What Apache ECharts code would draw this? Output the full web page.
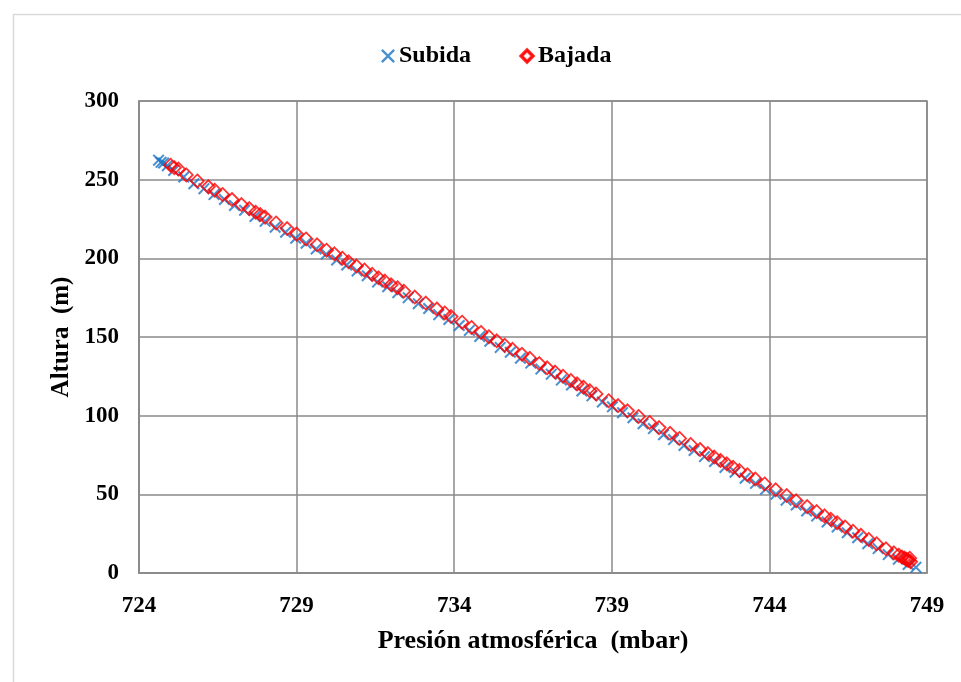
<!DOCTYPE html>
<html>
<head>
<meta charset="utf-8">
<script src="https://cdn.jsdelivr.net/npm/echarts@6/dist/echarts.min.js"></script>
<style>html,body{margin:0;padding:0;background:#fff}#c{width:961px;height:682px}</style>
</head>
<body>
<div id="c"></div>
<script>
// Subida: [presión (mbar), altura (m)]
var subida = [
  [724.62,262.4],[724.70,261.0],[724.78,260.6],[724.90,258.9],[725.10,255.9],[725.42,251.7],
  [725.74,247.4],[726.06,244.3],[726.38,240.5],[726.71,237.4],[727.03,233.6],[727.35,230.5],
  [727.68,226.6],[728.00,223.5],[728.32,219.8],[728.65,216.6],[728.97,212.8],[729.30,209.6],
  [729.62,205.9],[729.94,202.7],[730.27,198.9],[730.59,195.8],[730.92,192.0],[731.24,188.9],
  [731.57,185.0],[731.89,181.9],[732.21,178.2],[732.54,175.0],[732.86,171.2],[733.19,168.1],
  [733.51,164.2],[733.83,161.1],[734.16,157.3],[734.48,154.2],[734.81,150.3],[735.13,147.3],
  [735.46,143.4],[735.78,140.3],[736.10,136.5],[736.43,133.4],[736.75,129.6],[737.08,126.4],
  [737.40,122.6],[737.72,119.5],[738.05,115.7],[738.37,112.6],[738.70,108.7],[739.02,105.6],
  [739.34,101.9],[739.67,98.7],[739.99,94.9],[740.32,91.8],[740.64,87.9],[740.96,84.8],
  [741.29,81.0],[741.61,77.9],[741.94,74.0],[742.26,70.9],[742.59,67.1],[742.91,64.0],
  [743.23,60.2],[743.56,57.0],[743.88,53.3],[744.21,50.1],[744.53,46.3],[744.85,43.2],
  [745.18,39.4],[745.50,36.3],[745.83,32.4],[746.15,29.3],[746.47,25.6],[746.80,22.4],
  [747.12,18.6],[747.45,15.5],[747.77,11.7],[748.09,8.8],[748.40,5.4],[748.65,3.6]
];
// Bajada: [presión (mbar), altura (m)]
var bajada = [
  [725.00,259.2],[725.12,257.6],[725.25,256.8],[725.50,253.0],[725.85,249.2],[726.20,245.5],
  [726.40,243.3],[726.65,240.6],[726.95,237.4],[727.25,234.2],[727.50,231.6],[727.70,229.3],
  [727.85,227.8],[728.00,226.2],[728.35,222.5],[728.70,218.9],[729.00,215.4],[729.30,212.3],
  [729.65,208.6],[729.95,205.2],[730.20,202.9],[730.45,200.1],[730.65,197.8],[730.90,195.1],
  [731.15,192.6],[731.40,189.8],[731.60,187.6],[731.80,185.5],[732.00,183.2],[732.20,181.3],
  [732.40,179.1],[732.75,175.4],[733.10,171.6],[733.45,167.8],[733.70,165.3],[733.90,163.0],
  [734.25,159.4],[734.55,156.1],[734.85,152.9],[735.10,150.2],[735.35,147.6],[735.60,144.8],
  [735.85,142.2],[736.15,139.0],[736.40,136.4],[736.70,133.1],[736.95,130.4],[737.20,127.7],
  [737.45,125.1],[737.70,122.4],[737.90,120.2],[738.10,118.1],[738.30,115.9],[738.50,113.8],
  [738.90,109.5],[739.20,106.4],[739.50,103.1],[739.85,99.5],[740.20,95.7],[740.50,92.4],
  [740.85,88.8],[741.15,85.5],[741.50,81.7],[741.80,78.5],[742.05,75.9],[742.25,73.7],
  [742.45,71.5],[742.65,69.4],[742.85,67.2],[743.05,65.1],[743.30,62.5],[743.55,59.8],
  [743.85,56.6],[744.20,52.9],[744.55,49.2],[744.85,45.9],[745.20,42.2],[745.50,39.0],
  [745.75,36.3],[745.95,34.1],[746.15,32.0],[746.40,29.3],[746.65,26.6],[746.90,24.0],
  [747.15,21.3],[747.40,18.6],[747.70,15.4],[747.95,12.8],[748.10,11.3],[748.20,10.2],
  [748.28,9.5],[748.33,8.9],[748.38,8.2],[748.42,7.9],[748.45,9.4],[748.48,7.2]
];
var xTicks = [724, 729, 734, 739, 744, 749];
var yTicks = [0, 50, 100, 150, 200, 250, 300];

var crossPath = 'path://M0,1.2L1.2,0L5,3.8L8.8,0L10,1.2L6.2,5L10,8.8L8.8,10L5,6.2L1.2,10L0,8.8L3.8,5Z';
var diamondPath = 'path://M5,0L10,5L5,10L0,5Z M5,1.7L1.7,5L5,8.3L8.3,5Z';
var FONT = '"Liberation Serif","Times New Roman",serif';
var blue = '#1b75c6', red = '#ff0000', gridC = '#8a8a8a';

var chart = echarts.init(document.getElementById('c'), null, {renderer: 'canvas'});
chart.setOption({
  backgroundColor: '#fff',
  animation: false,
  graphic: [{
    type: 'rect', left: 11, top: 12, z: -10,
    shape: {x: 0, y: 0, width: 980, height: 700},
    style: {fill: 'none', stroke: '#d9d9d9', lineWidth: 1.5}
  }],
  legend: {
    top: 39, left: 376,
    itemGap: 48, itemWidth: 14, itemHeight: 14,
    textStyle: {fontFamily: FONT, fontWeight: 'bold', fontSize: 24, color: '#000', padding: [0,0,0,-1]},
    data: [
      {name: 'Subida', icon: crossPath, itemStyle: {color: blue}},
      {name: 'Bajada', icon: diamondPath, itemStyle: {color: red}}
    ]
  },
  grid: {left: 139, right: 34, top: 101, bottom: 109, show: true, borderColor: gridC, borderWidth: 1.5},
  xAxis: {
    type: 'value', min: 724, max: 749, interval: 5,
    name: 'Presión atmosférica  (mbar)', nameLocation: 'middle', nameGap: 55,
    nameTextStyle: {fontFamily: FONT, fontWeight: 'bold', fontSize: 26, color: '#000'},
    axisLine: {show: true, lineStyle: {color: gridC, width: 1.5}},
    axisTick: {show: false},
    axisLabel: {fontFamily: FONT, fontWeight: 'bold', fontSize: 23, color: '#000', margin: 22,
      formatter: function (v) { return xTicks.indexOf(v) >= 0 ? String(v) : ''; }},
    splitLine: {show: true, lineStyle: {color: gridC, width: 1.5}}
  },
  yAxis: {
    type: 'value', min: 0, max: 300, interval: 50,
    name: 'Altura  (m)', nameLocation: 'middle', nameGap: 62, nameRotate: 90,
    nameTextStyle: {fontFamily: FONT, fontWeight: 'bold', fontSize: 25, color: '#000'},
    axisLine: {show: true, lineStyle: {color: gridC, width: 1.5}},
    axisTick: {show: false},
    axisLabel: {fontFamily: FONT, fontWeight: 'bold', fontSize: 23, color: '#000', margin: 20,
      formatter: function (v) { return yTicks.indexOf(v) >= 0 ? String(v) : ''; }},
    splitLine: {show: true, lineStyle: {color: gridC, width: 1.5}}
  },
  series: [
    {
      name: 'Subida', type: 'scatter', data: subida,
      symbol: crossPath, symbolSize: 12,
      itemStyle: {color: blue}
    },
    {
      name: 'Bajada', type: 'scatter', data: bajada,
      symbol: 'diamond', symbolSize: 13,
      itemStyle: {color: 'rgba(255,255,255,0)', borderColor: red, borderWidth: 1.8}
    }
  ]
});
</script>
</body>
</html>
